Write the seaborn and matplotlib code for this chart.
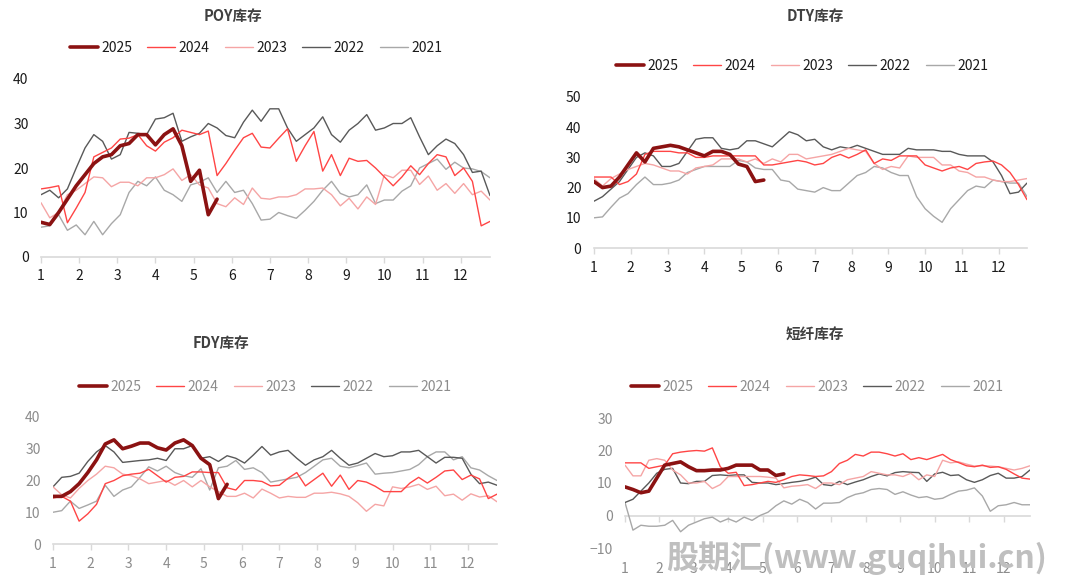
import numpy as np
import pandas as pd
import matplotlib
matplotlib.use('Agg')
import matplotlib.pyplot as plt
import seaborn as sns

# weekly inventory (days)
years = ['2025', '2024', '2023', '2022', '2021']
months = list(range(1, 13))
weeks = 1 + np.arange(52) * 12 / 52

poy_2025 = [7.8, 7.3, 10, 13, 16, 18.5, 21, 22.5, 23, 25, 25.5, 27.5, 27.5, 25.2, 27.5, 28.8, 25, 17, 19.5, 9.5, 13]
poy_2024 = [15.3, 15.6, 16.0, 7.7, 11.0, 14.5, 22.5, 23.5, 24.5, 26.5, 26.7, 27.5, 25.0, 23.8, 25.8, 26.8, 28.5, 28.0,
            27.5, 28.3, 18.3, 21.0, 24.0, 26.8, 27.8, 24.7, 24.5, 26.7, 28.8, 21.5, 25.0, 28.2, 19.3, 23.0, 18.3, 22.2,
            21.5, 21.7, 20.0, 18.0, 16.0, 18.0, 20.5, 18.5, 21.0, 23.0, 22.5, 18.3, 20.0, 17.0, 7.0, 8.0]
poy_2023 = [12.2, 8.8, 10, 14, 15, 16.5, 18, 17.8, 15.8, 16.8, 16.8, 16, 17.8, 17.8, 18.5, 19.8, 17.2, 18.5, 16.2, 15.5,
            12, 11.3, 13.3, 11.8, 15.5, 13.2, 13, 13.5, 13.5, 14, 15.3, 15.3, 15.5, 14, 11.5, 13.2, 10.8, 13.5, 11.8,
            18.5, 17.8, 19.5, 19.5, 16.3, 18.2, 15, 16.5, 14.3, 16.5, 14, 14.8, 12.8]
poy_2022 = [14, 15, 13.3, 15.3, 20, 24.5, 27.5, 26, 22, 23, 28, 27.8, 27.5, 31, 31.3, 32.3, 26, 27, 27.8, 30, 29, 27.3,
            26.8, 30.3, 33, 30.5, 33.3, 33.3, 29, 26, 27.5, 29, 31.5, 27.5, 25.8, 28.5, 30, 32, 28.5, 29, 30, 30, 31.3,
            27, 23, 25, 26.5, 25.5, 23, 19, 19.3, 13.8]
poy_2021 = [6.7, 7, 9.5, 6, 7.2, 5, 8, 5, 7.5, 9.5, 14.5, 17, 16, 18, 15, 14, 12.5, 16.2, 16.8, 17.8, 14.5, 17, 14.5, 15,
            12, 8.3, 8.5, 10, 9.3, 8.7, 10.5, 12.5, 15, 17, 14.3, 13.5, 14, 16.2, 12, 12.8, 12.8, 14.8, 16, 20, 21, 22,
            19.7, 21.3, 20, 19.8, 19.2, 17.8]

dty_2025 = [22, 20, 20.5, 23.5, 27.5, 31.5, 28.5, 33, 33.5, 34, 33.5, 32.5, 31.5, 30.5, 32, 32, 31, 27.8, 27, 22, 22.5]
dty_2024 = [23.5, 23.5, 23.5, 21, 22, 24.5, 31, 32, 32, 32, 31.5, 31.5, 30, 30, 30.5, 30.5, 30.5, 30.5, 30.5, 30.5, 27.5,
            27.5, 28, 28.5, 29, 28.5, 27.5, 28, 30, 31, 29.8, 31, 32.5, 28, 29.5, 29, 30.5, 30.5, 30.5, 27.5, 26.5, 25.5,
            26.5, 27, 26, 28, 28.5, 28.8, 27.5, 25, 21, 16]
dty_2023 = [23, 20.5, 23, 24.5, 26, 27, 28, 27.5, 26.5, 25.5, 25.5, 24.5, 26.5, 27, 27.5, 29.5, 29.5, 29.5, 28.5, 29.5,
            28, 29.5, 28.5, 31, 31, 29.5, 30, 30.5, 31, 32, 33, 32.5, 32, 28, 26, 27, 26.5, 30.5, 30, 30, 30, 27.5, 27.5,
            25.5, 25, 23.5, 23.5, 22.5, 22, 22, 22.5, 23]
dty_2022 = [15.5, 17, 19.5, 22, 26, 30, 31.5, 30.5, 27, 27, 28, 32, 36, 36.5, 36.5, 33, 32.5, 33, 35.5, 35.5, 34.5, 33.5,
            36, 38.5, 37.5, 35.5, 36, 33.5, 32.5, 33.5, 33, 34, 33, 32, 31, 31, 31, 33, 32.5, 32.5, 32.5, 32, 32, 31,
            30.5, 30.5, 30.5, 28.5, 24, 18, 18.5, 21.5]
dty_2021 = [10, 10.3, 13.5, 16.5, 18, 21, 23.5, 21, 21, 21.5, 22.5, 25, 26, 27, 27, 27, 27, 29, 28.5, 26.5, 26, 26, 22.5,
            22, 19.5, 19, 18.5, 20, 19, 19, 21.5, 24, 25, 27, 26.5, 25, 24, 24, 17, 13, 10.5, 8.5, 13, 16, 19, 20.5, 20,
            22.5, 22, 21.5, 21.5, 17]

fdy_2025 = [15, 15, 16.5, 19, 22.5, 26.5, 31.5, 32.8, 30, 30.8, 31.8, 31.8, 30.3, 29.6, 31.8, 32.8, 31, 27, 25, 14.3, 18.8]
fdy_2024 = [14.5, 15, 13.5, 7.2, 9.5, 12.5, 19, 20, 21.5, 22, 22.3, 23.5, 21.5, 19.5, 21, 21.3, 22.7, 22.7, 22.5, 22.5,
            17.7, 17, 20, 20, 19.7, 18.3, 18.5, 20.7, 22.5, 18.3, 20.3, 22.3, 18.2, 21.7, 17.2, 20, 19.5, 18.2, 16.5,
            16.5, 16.5, 19.2, 21, 19.2, 21, 23, 23.3, 20.3, 21.7, 20.5, 14.3, 15.7]
fdy_2023 = [18, 15.5, 14.5, 17.5, 20, 22, 24.5, 24, 22, 21.5, 20.5, 19, 19.5, 20, 18.5, 20, 18, 20, 18, 16.5, 15, 15,
            16, 14.5, 17.3, 16, 14.5, 15, 14.7, 14.7, 16, 16, 16.3, 15.8, 15, 13, 10.3, 12.5, 12, 18, 17.5, 18, 18.8,
            17.2, 18.2, 15.2, 15.7, 13.8, 15.8, 14.8, 15.2, 13.3]
fdy_2022 = [18, 21, 21.3, 22.3, 26, 29, 31, 29, 25.7, 26, 26.3, 26.5, 27, 26.3, 30, 30, 31, 27, 27.5, 26, 27.8, 27, 25.5,
            28, 30.7, 28, 29, 29.5, 27, 24.8, 26.5, 27.5, 29.5, 27, 24.8, 25.5, 27, 28.5, 27.5, 27.8, 29, 29, 29.5,
            27.5, 25.5, 27.3, 27.3, 27, 22, 19, 19.5, 18.5]
fdy_2021 = [10, 10.5, 13.5, 11.2, 12.3, 13.5, 18.5, 15, 17, 18, 21, 24.3, 23, 24.5, 22.5, 21.5, 21, 23.7, 17, 24, 24.5,
            26.3, 23.5, 24, 22.5, 19.5, 20, 20.5, 21, 22.5, 24.5, 26.5, 27, 24.5, 24, 24.7, 25.5, 22, 22.3, 22.5, 23,
            23.5, 25, 27.5, 29, 29, 26.5, 27.5, 24, 23.3, 21.5, 20]

sf_2025 = [8.8, 8, 7, 7.5, 11.5, 15.5, 16, 16.5, 15, 13.8, 13.8, 14, 14, 14.5, 15.5, 15.5, 15.5, 14, 14, 12.3, 12.8]
sf_2024 = [16.2, 16.2, 16.2, 14.5, 15, 15.5, 19, 19.5, 19.8, 20, 19.8, 20.8, 15, 13, 13.3, 9.2, 9.5, 10, 10.5, 10.2, 11,
           12, 12.5, 12.3, 12, 12.2, 13.5, 16, 17, 18.8, 18.3, 19.5, 19.5, 19, 18.3, 19, 17.2, 17.8, 17.2, 18, 18.8,
           17.2, 16.3, 15.3, 15, 15.5, 14.8, 15, 14.2, 12.8, 11.5, 11.2]
sf_2023 = [15.5, 12.2, 12.2, 17, 17.5, 17, 14, 12.5, 10, 10, 10.5, 8.3, 9.5, 12, 12, 12, 12, 12, 11.8, 11.5, 8.5, 9, 9.2,
           9.5, 8.3, 10, 10, 9.5, 11, 11.5, 12, 13.5, 13, 12.5, 12.5, 12, 13, 11, 12.5, 12, 17, 16.2, 16.5, 15.8, 15.2,
           15.3, 15.2, 15, 14.5, 14, 14.5, 15.3]
sf_2022 = [4, 5, 7.5, 10, 13, 14.2, 14.5, 10, 9.8, 10.5, 10.5, 12.3, 12.5, 12.3, 12.5, 12.5, 10.2, 10, 10, 9.5, 9.8, 10.2,
           10.5, 11, 11.8, 9.5, 9.2, 10.5, 9.5, 10.3, 11, 12, 12.8, 12.2, 13.2, 13.5, 13.3, 13.2, 10.5, 12.8, 13.3, 12.3,
           12.5, 11, 10.2, 11, 12.3, 13, 11.5, 11.5, 12, 14]
sf_2021 = [4, -4.5, -3, -3.3, -3.3, -3, -1.5, -5, -3, -2, -1, -0.5, -2, -1, -2, -0.5, -1.5, 0, 1, 3, 4.5, 3.5, 5, 4, 2,
           3.8, 3.8, 4, 5.5, 6.5, 7, 8, 8.3, 8, 6.5, 7.3, 6.3, 5.5, 5.8, 5, 5.3, 6.5, 7.5, 7.8, 8.5, 6, 1.3, 3, 3.3, 4,
           3.3, 3.3]

colors = {'2025': '#8B1212', '2024': '#FF4545', '2023': '#F5A5A5', '2022': '#595959', '2021': '#A8A8A8'}
widths = {'2025': 2.6, '2024': 1.0, '2023': 1.0, '2022': 1.0, '2021': 1.0}

sns.set_theme(style='white')
plt.rcParams['font.family'] = ['Noto Sans CJK SC', 'DejaVu Sans']

fig = plt.figure(figsize=(10.67, 5.88), dpi=100)
W, H = 1067, 588


def draw_panel(box, title, title_xy, legend_xy, series, yticks, txt_color, zero_axis=False):
    # box = (left, top, right, bottom) in pixels
    l, t, r, b = box
    ax = fig.add_axes([l / W, 1 - b / H, (r - l) / W, (b - t) / H])
    for k, yr in enumerate(years):
        vals = series[yr]
        df = pd.DataFrame({'week': weeks[:len(vals)], 'value': vals})
        sns.lineplot(data=df, x='week', y='value', ax=ax, color=colors[yr], lw=widths[yr],
                     label=yr, zorder=10 - k)
    ax.set_xlim(weeks[0], weeks[-1])
    ax.set_ylim(yticks[0], yticks[-1])
    ax.set_yticks(yticks)
    ax.set_xticks(months)
    ax.set_xlabel('')
    ax.set_ylabel('')
    for s in ['left', 'right', 'top']:
        ax.spines[s].set_visible(False)
    ax.tick_params(axis='y', length=0, pad=9, labelsize=10, labelcolor=txt_color)
    if zero_axis:
        ax.spines['bottom'].set_visible(False)
        ax.tick_params(axis='x', length=0, pad=10, labelsize=10, labelcolor=txt_color)
        pos = (0 - yticks[0]) / (yticks[-1] - yticks[0])
        sec = ax.secondary_xaxis(pos)
        sec.set_xticks(months)
        sec.set_xticklabels([])
        sec.spines['bottom'].set_color('#D9D9D9')
        sec.spines['bottom'].set_linewidth(1.2)
        sec.tick_params(axis='x', length=4, color='#D9D9D9', width=1)
    else:
        ax.spines['bottom'].set_color('#D9D9D9')
        ax.spines['bottom'].set_linewidth(1.2)
        ax.tick_params(axis='x', length=4, color='#D9D9D9', width=1, pad=5,
                       labelsize=10, labelcolor=txt_color, bottom=True)
    ax.grid(False)
    ax.legend(loc='center', bbox_to_anchor=(legend_xy[0] / W, 1 - legend_xy[1] / H),
              bbox_transform=fig.transFigure, ncol=5, frameon=False, fontsize=10,
              handlelength=2.0, handletextpad=0.25, columnspacing=1.1, labelcolor=txt_color)
    fig.text(title_xy[0] / W, 1 - title_xy[1] / H, title, ha='center', va='center',
             fontsize=10.5, fontweight='bold', color='#404040')
    return ax


draw_panel((41, 79, 490, 257), 'POY库存', (233, 16), (256, 48),
           dict(zip(years, [poy_2025, poy_2024, poy_2023, poy_2022, poy_2021])),
           [0, 10, 20, 30, 40], '#1A1A1A')
draw_panel((594, 97, 1027, 248), 'DTY库存', (815, 16), (802, 66),
           dict(zip(years, [dty_2025, dty_2024, dty_2023, dty_2022, dty_2021])),
           [0, 10, 20, 30, 40, 50], '#1A1A1A')
draw_panel((53, 417, 497, 544), 'FDY库存', (221, 343), (265, 387),
           dict(zip(years, [fdy_2025, fdy_2024, fdy_2023, fdy_2022, fdy_2021])),
           [0, 10, 20, 30, 40], '#8C8C8C')
draw_panel((625, 418, 1030, 548), '短纤库存', (815, 334), (817, 387),
           dict(zip(years, [sf_2025, sf_2024, sf_2023, sf_2022, sf_2021])),
           [-10, 0, 10, 20, 30], '#8C8C8C', zero_axis=True)

# watermark
fig.text(857 / W, 1 - 558 / H, '股期汇(www.guqihui.cn)', ha='center', va='center',
         fontsize=23, fontweight='bold', color='#BFBFBF', zorder=50)

fig.savefig('out.png', dpi=100)
